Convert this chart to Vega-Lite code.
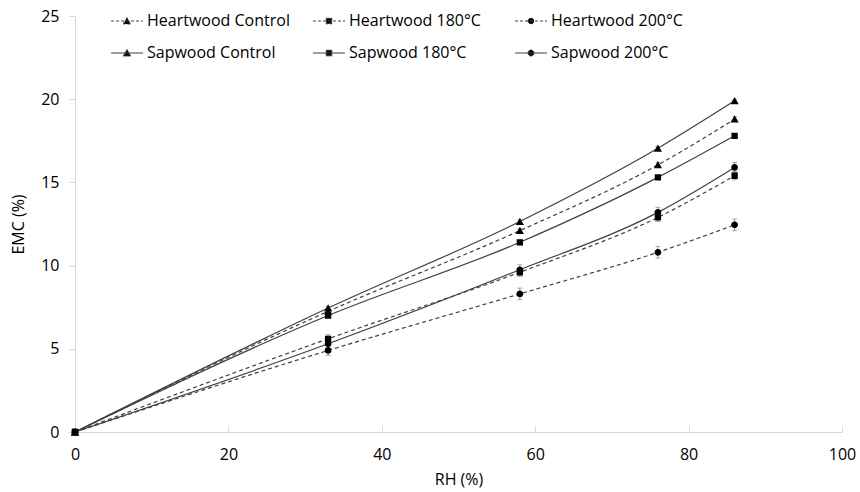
{
  "$schema": "https://vega.github.io/schema/vega-lite/v6.json",
  "width": 767,
  "height": 416,
  "autosize": "none",
  "padding": {"left": 75, "top": 16, "right": 18, "bottom": 60},
  "background": "white",
  "config": {
    "view": {"stroke": null},
    "font": "Open Sans",
    "axis": {
      "grid": false,
      "domainColor": "#d9d9d9",
      "tickColor": "#d9d9d9",
      "labelFont": "Open Sans",
      "labelFontSize": 16,
      "labelColor": "#000000",
      "titleFont": "Open Sans",
      "titleFontSize": 16,
      "titleFontWeight": "normal",
      "titleColor": "#000000"
    },
    "legend": {
      "labelFont": "Open Sans",
      "labelFontSize": 16,
      "labelColor": "#000000"
    }
  },
  "data": {
    "values": [
      {"series": "Heartwood Control", "rh": 0, "emc": 0, "sd": 0},
      {"series": "Heartwood Control", "rh": 33, "emc": 7.25, "sd": 0.12},
      {"series": "Heartwood Control", "rh": 58, "emc": 12.1, "sd": 0.12},
      {"series": "Heartwood Control", "rh": 76, "emc": 16.05, "sd": 0.15},
      {"series": "Heartwood Control", "rh": 86, "emc": 18.8, "sd": 0.15},
      {"series": "Sapwood Control", "rh": 0, "emc": 0, "sd": 0},
      {"series": "Sapwood Control", "rh": 33, "emc": 7.45, "sd": 0.1},
      {"series": "Sapwood Control", "rh": 58, "emc": 12.65, "sd": 0.1},
      {"series": "Sapwood Control", "rh": 76, "emc": 17.05, "sd": 0.1},
      {"series": "Sapwood Control", "rh": 86, "emc": 19.9, "sd": 0.1},
      {"series": "Heartwood 200°C", "rh": 0, "emc": 0, "sd": 0},
      {"series": "Heartwood 200°C", "rh": 33, "emc": 4.9, "sd": 0.3},
      {"series": "Heartwood 200°C", "rh": 58, "emc": 8.3, "sd": 0.35},
      {"series": "Heartwood 200°C", "rh": 76, "emc": 10.8, "sd": 0.35},
      {"series": "Heartwood 200°C", "rh": 86, "emc": 12.45, "sd": 0.35},
      {"series": "Sapwood 200°C", "rh": 0, "emc": 0, "sd": 0},
      {"series": "Sapwood 200°C", "rh": 33, "emc": 5.3, "sd": 0.25},
      {"series": "Sapwood 200°C", "rh": 58, "emc": 9.75, "sd": 0.3},
      {"series": "Sapwood 200°C", "rh": 76, "emc": 13.2, "sd": 0.3},
      {"series": "Sapwood 200°C", "rh": 86, "emc": 15.9, "sd": 0.3},
      {"series": "Heartwood 180°C", "rh": 0, "emc": 0, "sd": 0},
      {"series": "Heartwood 180°C", "rh": 33, "emc": 5.6, "sd": 0.25},
      {"series": "Heartwood 180°C", "rh": 58, "emc": 9.6, "sd": 0.25},
      {"series": "Heartwood 180°C", "rh": 76, "emc": 12.9, "sd": 0.25},
      {"series": "Heartwood 180°C", "rh": 86, "emc": 15.4, "sd": 0.25},
      {"series": "Sapwood 180°C", "rh": 0, "emc": 0, "sd": 0},
      {"series": "Sapwood 180°C", "rh": 33, "emc": 7.0, "sd": 0.12},
      {"series": "Sapwood 180°C", "rh": 58, "emc": 11.4, "sd": 0.12},
      {"series": "Sapwood 180°C", "rh": 76, "emc": 15.3, "sd": 0.12},
      {"series": "Sapwood 180°C", "rh": 86, "emc": 17.8, "sd": 0.12}
    ]
  },
  "encoding": {
    "x": {
      "field": "rh",
      "type": "quantitative",
      "scale": {"domain": [0, 100], "nice": false},
      "axis": {"title": "RH (%)", "values": [0, 20, 40, 60, 80, 100], "tickSize": -6, "labelPadding": 20, "titlePadding": 9, "labelFlush": false}
    },
    "y": {
      "field": "emc",
      "type": "quantitative",
      "scale": {"domain": [0, 25], "nice": false},
      "axis": {"title": "EMC (%)", "values": [0, 5, 10, 15, 20, 25], "tickSize": 6, "labelPadding": 10, "titlePadding": 14, "labelFlush": false}
    }
  },
  "layer": [
    {
      "transform": [{"filter": "indexof(datum.series, 'Heartwood') === 0"}],
      "mark": {"type": "line", "interpolate": "monotone", "color": "#404040", "strokeWidth": 1.2, "strokeDash": [4, 3]},
      "encoding": {
        "detail": {"field": "series", "type": "nominal"}
      }
    },
    {
      "transform": [{"filter": "indexof(datum.series, 'Sapwood') === 0"}],
      "mark": {"type": "line", "interpolate": "monotone", "color": "#404040", "strokeWidth": 1.2},
      "encoding": {
        "detail": {"field": "series", "type": "nominal"}
      }
    },
    {
      "mark": {"type": "errorbar", "color": "#8c8c8c", "ticks": true},
      "encoding": {
        "yError": {"field": "sd"},
        "detail": {"field": "series", "type": "nominal"}
      }
    },
    {
      "mark": {"type": "point", "filled": true, "fill": "#000000", "opacity": 1, "size": 81},
      "encoding": {
        "shape": {
          "field": "series",
          "type": "nominal",
          "scale": {
            "domain": ["Heartwood Control", "Heartwood 180°C", "Heartwood 200°C", "Sapwood Control", "Sapwood 180°C", "Sapwood 200°C"],
            "range": [
              "M-4,0H4M-0.9,0.75L0,-0.85L0.9,0.75Z",
              "M-4,0H4M-0.7,-0.7H0.7V0.7H-0.7Z",
              "M-4,0H4M-0.75,0A0.75,0.75 0 1,0 0.75,0A0.75,0.75 0 1,0 -0.75,0Z",
              "M-4,0H4M-0.9,0.75L0,-0.85L0.9,0.75Z",
              "M-4,0H4M-0.7,-0.7H0.7V0.7H-0.7Z",
              "M-4,0H4M-0.75,0A0.75,0.75 0 1,0 0.75,0A0.75,0.75 0 1,0 -0.75,0Z"
            ]
          },
          "legend": {
            "title": null,
            "orient": "none",
            "legendX": 44,
            "legendY": -3,
            "direction": "horizontal",
            "columns": 3,
            "gridAlign": "all",
            "symbolSize": 64,
            "symbolOpacity": 1,
            "labelOffset": 12,
            "columnPadding": 21,
            "rowPadding": 16,
            "encoding": {
              "symbols": {
                "stroke": {"value": "#404040"},
                "strokeWidth": {"value": 1},
                "strokeOpacity": {"value": 1},
                "fill": {"value": "#000000"}
              }
            }
          }
        },
        "strokeDash": {
          "field": "series",
          "type": "nominal",
          "scale": {
            "domain": ["Heartwood Control", "Heartwood 180°C", "Heartwood 200°C", "Sapwood Control", "Sapwood 180°C", "Sapwood 200°C"],
            "range": [[3, 2], [3, 2], [3, 2], [1, 0], [1, 0], [1, 0]]
          },
          "legend": {
            "title": null,
            "orient": "none",
            "legendX": 44,
            "legendY": -3,
            "direction": "horizontal",
            "columns": 3,
            "gridAlign": "all",
            "symbolSize": 64,
            "symbolOpacity": 1,
            "labelOffset": 12,
            "columnPadding": 21,
            "rowPadding": 16,
            "encoding": {
              "symbols": {
                "stroke": {"value": "#404040"},
                "strokeWidth": {"value": 1},
                "strokeOpacity": {"value": 1},
                "fill": {"value": "#000000"}
              }
            }
          }
        }
      }
    }
  ]
}
